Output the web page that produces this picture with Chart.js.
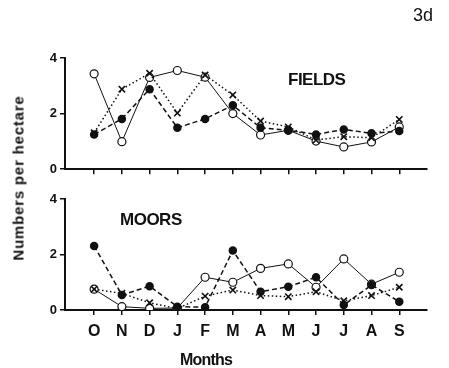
<!DOCTYPE html>
<html>
<head>
<meta charset="utf-8">
<script src="https://cdn.jsdelivr.net/npm/chart.js@4/dist/chart.umd.min.js"></script>
<style>
  body { margin: 0; background: #fff; }
  #wrap { position: relative; width: 449px; height: 368px; overflow: hidden; font-family: "Liberation Sans", Arial, sans-serif; color: #111; }
  canvas { position: absolute; left: 0; }
  .txt { position: absolute; white-space: nowrap; font-weight: bold; }
</style>
</head>
<body>
<div id="wrap">
  <canvas id="fieldsChart" width="449" height="180" style="top:0"></canvas>
  <canvas id="moorsChart" width="449" height="188" style="top:180px"></canvas>
  <div class="txt" style="left:413px;top:5px;font-weight:normal;font-size:18px;">3d</div>
  <div class="txt" style="left:288px;top:70px;font-size:17px;letter-spacing:-0.5px;">FIELDS</div>
  <div class="txt" style="left:120px;top:210px;font-size:17px;letter-spacing:-0.5px;">MOORS</div>
  <div class="txt" style="left:180px;top:351px;font-size:16px;letter-spacing:-0.8px;">Months</div>
  <div class="txt" style="left:18px;top:178px;font-size:15px;letter-spacing:0.8px;transform:translate(-50%,-50%) rotate(-90deg);">Numbers per hectare</div>
</div>
<script>
const months = ['O', 'N', 'D', 'J', 'F', 'M', 'A', 'M', 'J', 'J', 'A', 'S'];

const fieldsOpen = [3.43, 0.99, 3.30, 3.55, 3.31, 2.00, 1.23, 1.40, 1.01, 0.80, 0.98, 1.52];
const fieldsFilled = [1.25, 1.81, 2.88, 1.49, 1.81, 2.30, 1.49, 1.40, 1.25, 1.43, 1.29, 1.37];
const fieldsCross = [1.31, 2.88, 3.45, 2.02, 3.39, 2.67, 1.73, 1.52, 1.05, 1.17, 1.13, 1.79];

const moorsOpen = [0.75, 0.12, 0.06, 0.07, 1.18, 1.00, 1.50, 1.66, 0.82, 1.84, 0.93, 1.36];
const moorsFilled = [2.31, 0.54, 0.86, 0.12, 0.10, 2.14, 0.66, 0.84, 1.18, 0.18, 0.90, 0.30];
const moorsCross = [0.75, 0.60, 0.26, 0.05, 0.50, 0.72, 0.52, 0.48, 0.66, 0.33, 0.52, 0.82];

const yTicks = [0, 2, 4];

const toPoints = (values) => values.map((v, i) => ({ x: i, y: v }));

function datasets(open, filled, cross) {
  return [
    {
      data: toPoints(cross),
      borderColor: '#111',
      borderWidth: 1.5,
      borderDash: [1.5, 2.5],
      pointStyle: 'crossRot',
      pointRadius: 4.5,
      pointBorderWidth: 1.6,
      pointBorderColor: '#111'
    },
    {
      data: toPoints(filled),
      borderColor: '#111',
      borderWidth: 1.5,
      borderDash: [5, 3],
      pointStyle: 'circle',
      pointRadius: 3.5,
      pointBackgroundColor: '#111',
      pointBorderColor: '#111'
    },
    {
      data: toPoints(open),
      borderColor: '#111',
      borderWidth: 1,
      pointStyle: 'circle',
      pointRadius: 4,
      pointBorderWidth: 1.2,
      pointBackgroundColor: '#fff',
      pointBorderColor: '#111'
    }
  ];
}

function makeChart(elementId, open, filled, cross, opts) {
  return new Chart(document.getElementById(elementId), {
    type: 'line',
    data: { datasets: datasets(open, filled, cross) },
    options: {
      responsive: false,
      animation: false,
      devicePixelRatio: 1,
      layout: { padding: { top: opts.top, right: 22, left: 0, bottom: 0 } },
      plugins: { legend: { display: false }, tooltip: { enabled: false } },
      scales: {
        x: {
          type: 'linear',
          min: -1.05,
          max: 12,
          afterBuildTicks: (scale) => { scale.ticks = months.map((_, i) => ({ value: i })); },
          afterFit: (scale) => { scale.height = opts.xHeight; },
          border: { display: true, color: '#111', width: 2 },
          grid: { drawOnChartArea: false, drawTicks: true, tickLength: 5, color: '#111', lineWidth: 1.5 },
          ticks: {
            display: opts.showLabels,
            autoSkip: false,
            maxRotation: 0,
            padding: 7,
            color: '#111',
            font: { family: '"Liberation Sans", Arial, sans-serif', size: 16, weight: 'bold' },
            callback: (value) => months[value]
          }
        },
        y: {
          min: 0,
          max: 4,
          afterBuildTicks: (scale) => { scale.ticks = yTicks.map((v) => ({ value: v })); },
          afterFit: (scale) => { scale.width = 65; },
          border: { display: true, color: '#111', width: 2 },
          grid: { drawOnChartArea: false, drawTicks: true, tickLength: 5, color: '#111', lineWidth: 1.5 },
          ticks: {
            padding: 3,
            color: '#111',
            font: { family: '"Liberation Sans", Arial, sans-serif', size: 13, weight: 'bold' }
          }
        }
      }
    }
  });
}

makeChart('fieldsChart', fieldsOpen, fieldsFilled, fieldsCross, { top: 58, xHeight: 10, showLabels: false });
makeChart('moorsChart', moorsOpen, moorsFilled, moorsCross, { top: 19, xHeight: 58, showLabels: true });
</script>
</body>
</html>
